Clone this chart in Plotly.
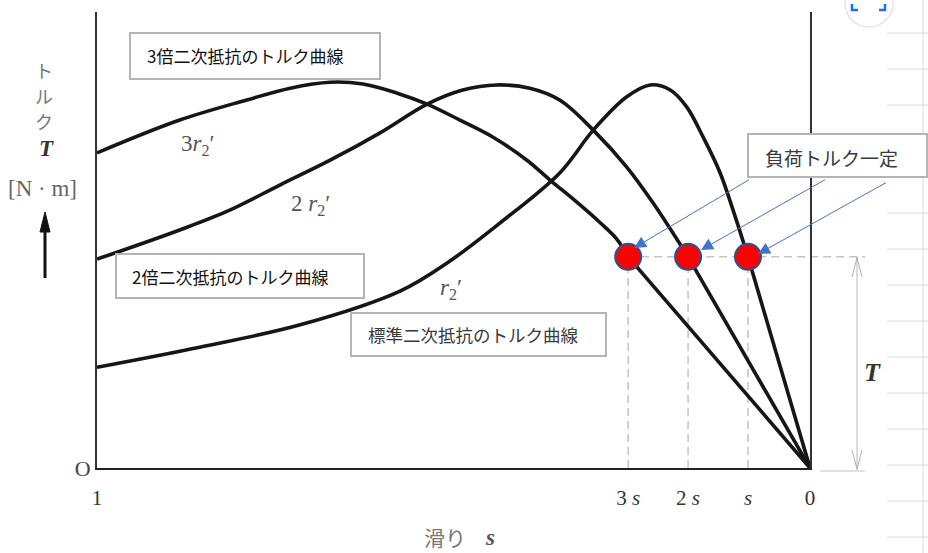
import plotly.graph_objects as go

# slip s runs from 1 (standstill) down to 0 (synchronous speed); torque in axis units (0-100)
slip_r2 = [1.000, 0.856, 0.715, 0.575, 0.505, 0.435, 0.351, 0.304, 0.257, 0.224,
           0.196, 0.173, 0.150, 0.126, 0.108, 0.087, 0.0]
torque_r2 = [22.1, 26.5, 31.4, 38.8, 45.4, 53.7, 64.7, 74.1, 81.4, 84.0,
             82.9, 79.2, 72.6, 64.7, 56.6, 46.3, 0.0]

slip_2r2 = [1.000, 0.884, 0.813, 0.743, 0.673, 0.603, 0.537, 0.487, 0.439, 0.393,
            0.351, 0.304, 0.257, 0.220, 0.171, 0.0]
torque_2r2 = [45.8, 52.2, 56.6, 62.1, 67.5, 73.5, 79.8, 82.9, 84.0, 83.3,
              80.7, 74.1, 66.0, 58.1, 46.3, 0.0]

slip_3r2 = [1.000, 0.884, 0.790, 0.729, 0.673, 0.627, 0.579, 0.537, 0.491, 0.445,
            0.397, 0.365, 0.327, 0.295, 0.271, 0.255, 0.0]
torque_3r2 = [69.1, 76.3, 80.7, 83.3, 84.6, 84.2, 82.2, 79.8, 76.3, 72.6,
              67.5, 63.2, 58.3, 53.9, 50.2, 46.3, 0.0]

load_torque = 46.3
load_slip = [0.255, 0.171, 0.087]

tick_vals = [1, 0.255, 0.171, 0.087, 0]
tick_text = ['1', '3 <i>s</i>', '2 <i>s</i>', '<i>s</i>', '0']

# plot area in page pixels
L, R, TOP, BOT = 97, 810, 12, 468
W, H = 928, 553


def px(x):
    return (x - L) / (R - L)


def py(y):
    return (BOT - y) / (BOT - TOP)


SERIF = 'Liberation Serif'
JP = 'Noto Sans CJK JP'
CURVE = '#161616'

fig = go.Figure()

for s, t in [(slip_r2, torque_r2), (slip_2r2, torque_2r2), (slip_3r2, torque_3r2)]:
    # curved part up to the load point, then the near-linear part down to s=0
    fig.add_trace(go.Scatter(x=s[:-1], y=t[:-1], mode='lines',
                             line=dict(color=CURVE, width=3.6, shape='spline', smoothing=1.0),
                             hoverinfo='skip'))
    fig.add_trace(go.Scatter(x=s[-2:], y=t[-2:], mode='lines',
                             line=dict(color=CURVE, width=3.6), hoverinfo='skip'))

shapes = []

# dashed drop lines from the operating points
for s in load_slip:
    shapes.append(dict(type='line', xref='x', yref='y', x0=s, x1=s, y0=0, y1=load_torque,
                       line=dict(color='#c4c4c4', width=1.5, dash='8px,5px'), layer='below'))
shapes.append(dict(type='line', xref='paper', yref='paper',
                   x0=1 - load_slip[0], x1=px(865), y0=load_torque / 100, y1=load_torque / 100,
                   line=dict(color='#c4c4c4', width=1.5, dash='8px,5px'), layer='below'))

# dimension line "T" on the right
shapes.append(dict(type='line', xref='paper', yref='paper', x0=px(820), x1=px(865),
                   y0=py(471), y1=py(471), line=dict(color='#c4c4c4', width=1.2)))
shapes.append(dict(type='line', xref='paper', yref='paper', x0=px(857), x1=px(857),
                   y0=load_torque / 100, y1=py(470), line=dict(color='#b8b8b8', width=1)))
ty = BOT - load_torque / 100 * (BOT - TOP)
shapes.append(dict(type='path', xref='paper', yref='paper',
                   path=f'M {px(852)},{py(ty + 20)} L {px(857)},{py(ty + 1)} L {px(862)},{py(ty + 20)}',
                   line=dict(color='#b0b0b0', width=1)))
shapes.append(dict(type='path', xref='paper', yref='paper',
                   path=f'M {px(852)},{py(450)} L {px(857)},{py(469)} L {px(862)},{py(450)}',
                   line=dict(color='#b0b0b0', width=1)))

# notebook grid on the right edge
for k in range(15):
    yy = 33 + 36 * k
    shapes.append(dict(type='line', xref='paper', yref='paper', x0=px(887), x1=px(928),
                       y0=py(yy), y1=py(yy), line=dict(color='#dadada', width=1), layer='below'))
shapes.append(dict(type='line', xref='paper', yref='paper', x0=px(923), x1=px(923),
                   y0=py(0), y1=py(553), line=dict(color='#dadada', width=1), layer='below'))

# lens button in the corner
shapes.append(dict(type='circle', xref='paper', yref='paper', x0=px(845), x1=px(893),
                   y0=py(27), y1=py(-21), fillcolor='white', line=dict(color='#e4e4e4', width=1.5)))
shapes.append(dict(type='path', xref='paper', yref='paper',
                   path=f'M {px(852)},{py(4)} L {px(852)},{py(10)} L {px(858)},{py(10)} '
                        f'M {px(885)},{py(4)} L {px(885)},{py(10)} L {px(879)},{py(10)}',
                   line=dict(color='#1a73e8', width=2.5)))

# up arrow beside the y label
shapes.append(dict(type='line', xref='paper', yref='paper', x0=px(45), x1=px(45),
                   y0=py(278), y1=py(228), line=dict(color='#111', width=3)))
shapes.append(dict(type='path', xref='paper', yref='paper',
                   path=f'M {px(40)},{py(232)} L {px(45)},{py(212)} L {px(50)},{py(232)} Z',
                   fillcolor='#111', line=dict(color='#111', width=1)))

# callout boxes
boxes = [(130, 33, 380, 79), (116, 254, 364, 298), (351, 313, 606, 356), (748, 134, 927, 177)]
for x0, y0, x1, y1 in boxes:
    shapes.append(dict(type='rect', xref='paper', yref='paper', x0=px(x0), x1=px(x1),
                       y0=py(y0), y1=py(y1), fillcolor='white',
                       line=dict(color='#b4b4b4', width=2), layer='above'))

fig.add_trace(go.Scatter(x=load_slip, y=[load_torque] * len(load_slip), mode='markers',
                         marker=dict(size=26, color='#ff0000', line=dict(color='#2f528f', width=2)),
                         hoverinfo='skip'))

annotations = []


def text(x, y, s, size, color, family=JP, xanchor='center'):
    annotations.append(dict(x=px(x), y=py(y), xref='paper', yref='paper', text=s,
                            showarrow=False, xanchor=xanchor, yanchor='middle',
                            font=dict(family=family, size=size, color=color)))


text(145, 56, '3倍二次抵抗のトルク曲線', 17, '#111', xanchor='left')
text(130, 276, '2倍二次抵抗のトルク曲線', 17, '#111', xanchor='left')
text(366, 335, '標準二次抵抗のトルク曲線', 17.5, '#3a3a3a', xanchor='left')
text(763, 157, '負荷トルク一定', 19, '#3a3a3a', xanchor='left')

# curve labels
text(198, 145, '3<i>r</i><sub>2</sub>′', 23, '#555', SERIF)
text(310, 205, '2 <i>r</i><sub>2</sub>′', 23, '#555', SERIF)
text(451, 289, '<i>r</i><sub>2</sub>′', 23, '#555', SERIF)

# axis titles
text(44, 70, 'ト', 18, '#777')
text(44, 96, 'ル', 18, '#777')
text(44, 121, 'ク', 18, '#777')
text(46, 148, '<b><i>T</i></b>', 23, '#333', SERIF)
text(42, 188, '[N · m]', 23, '#666', SERIF)
text(445, 537, '滑り', 21, '#777')
text(490, 537, '<b><i>s</i></b>', 23, '#555', SERIF)
text(872, 372, '<b><i>T</i></b>', 26, '#333', SERIF)

# blue leader arrows from the load-torque callout
for (hx, hy), (tx, tyy) in [((634, 248), (752, 178)), ((701, 250), (828, 178)), ((758, 254), (889, 181))]:
    annotations.append(dict(x=px(hx), y=py(hy), xref='paper', yref='paper', text=' ',
                            showarrow=True, ax=tx - hx, ay=tyy - hy, arrowhead=2, arrowsize=2.4,
                            arrowwidth=1, arrowcolor='#4472c4', standoff=0))

fig.update_layout(
    width=W, height=H, autosize=False,
    margin=dict(l=L, r=W - R, t=TOP, b=H - BOT),
    plot_bgcolor='white', paper_bgcolor='white',
    showlegend=False,
    shapes=shapes, annotations=annotations,
    xaxis=dict(range=[1, 0], tickvals=tick_vals, ticktext=tick_text, showgrid=False,
               zeroline=False, showline=True, linecolor='#222', linewidth=2, ticks='',
               ticklabelstandoff=10, tickfont=dict(family=SERIF, size=21, color='#333')),
    yaxis=dict(range=[0, 100], tickvals=[0], ticktext=['O'], showgrid=False, zeroline=False,
               showline=True, mirror=True, linecolor='#333', linewidth=2, ticks='',
               tickfont=dict(family=SERIF, size=22, color='#444')),
)

# the page body has a default 8px margin; drop it so the figure sits at the window corner
fig.write_html('out.html', config={'displayModeBar': False},
               post_script="document.body.style.margin='0px';")
